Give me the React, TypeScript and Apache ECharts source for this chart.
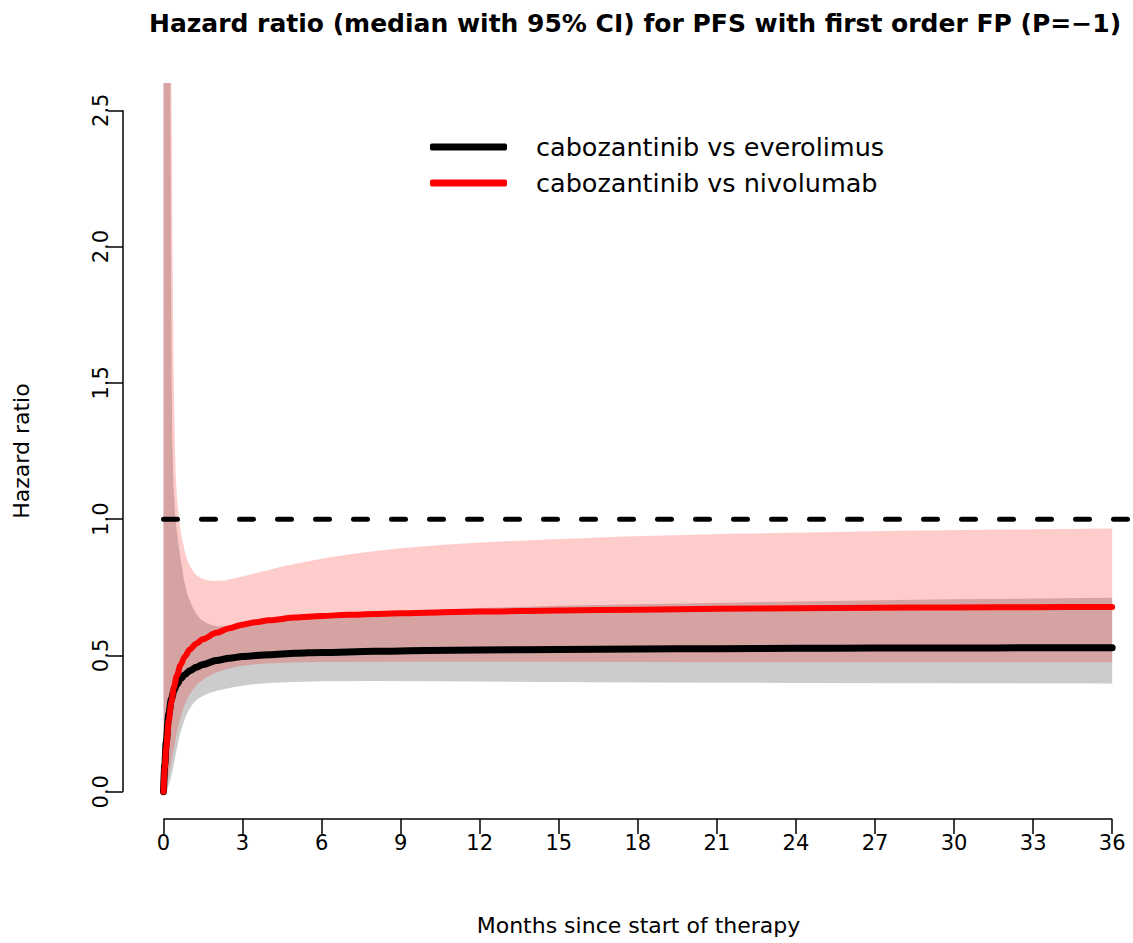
import React, { useEffect, useRef } from "react";
import * as echarts from "echarts";

// ---------- text ----------
const TITLE = "Hazard ratio (median with 95% CI) for PFS with first order FP (P=\u22121)";
const X_TITLE = "Months since start of therapy";
const Y_TITLE = "Hazard ratio";
const NAME_EVE = "cabozantinib vs everolimus";
const NAME_NIVO = "cabozantinib vs nivolumab";

// ---------- ticks ----------
const X_TICKS = [0, 3, 6, 9, 12, 15, 18, 21, 24, 27, 30, 33, 36];
const Y_TICKS = [0, 0.5, 1, 1.5, 2, 2.5];
const REFERENCE_HR = 1;

// ---------- medians [month, HR] ----------
const EVE_MEDIAN: number[][] = [
  [0, 0], [0.05, 0.1], [0.1, 0.18], [0.2, 0.285], [0.3, 0.34], [0.4, 0.372], [0.5, 0.393],
  [0.65, 0.414], [0.8, 0.429], [1.0, 0.444], [1.25, 0.457], [1.5, 0.467], [2, 0.481], [2.5, 0.49],
  [3, 0.496], [4, 0.503], [5, 0.508], [6, 0.511], [8, 0.515], [10, 0.518], [12, 0.52],
  [15, 0.522], [18, 0.524], [21, 0.525], [24, 0.526], [27, 0.527], [30, 0.527], [33, 0.528], [36, 0.528],
];
const NIVO_MEDIAN: number[][] = [
  [0, 0], [0.05, 0.09], [0.1, 0.16], [0.2, 0.26], [0.3, 0.33], [0.4, 0.385], [0.5, 0.425],
  [0.65, 0.465], [0.8, 0.495], [1.0, 0.522], [1.25, 0.544], [1.5, 0.56], [2, 0.583], [2.5, 0.6],
  [3, 0.613], [3.5, 0.622], [4, 0.629], [5, 0.639], [6, 0.645], [7, 0.649], [8, 0.652], [10, 0.657],
  [12, 0.661], [15, 0.665], [18, 0.668], [21, 0.671], [24, 0.673], [27, 0.675], [30, 0.676], [33, 0.677], [36, 0.678],
];

// ---------- 95% CI bounds [month, HR] ----------
const EVE_UPPER: number[][] = [
  [0, 30], [0.1, 7], [0.2, 3.6], [0.26, 2.6], [0.3, 1.6], [0.33, 1.3], [0.38, 1.12], [0.45, 1.0],
  [0.58, 0.9], [0.77, 0.78], [0.9, 0.725], [1.09, 0.68], [1.25, 0.652], [1.4, 0.634], [1.7, 0.615],
  [2, 0.607], [2.5, 0.607], [3, 0.613], [4, 0.626], [5, 0.637], [6, 0.646], [7.5, 0.655],
  [9, 0.663], [12, 0.674], [15, 0.682], [18, 0.688], [24, 0.698], [30, 0.706], [36, 0.712],
];
const EVE_LOWER: number[][] = [
  [0, 0], [0.15, 0.012], [0.25, 0.04], [0.35, 0.08], [0.5, 0.155], [0.62, 0.21], [0.75, 0.25],
  [0.88, 0.285], [1.0, 0.305], [1.13, 0.325], [1.3, 0.34], [1.5, 0.352], [1.75, 0.362], [2, 0.37],
  [2.4, 0.379], [2.8, 0.386], [3.3, 0.393], [4, 0.399], [5, 0.403], [6, 0.405], [8, 0.406],
  [12, 0.404], [18, 0.401], [24, 0.399], [30, 0.398], [36, 0.397],
];
const NIVO_UPPER: number[][] = [
  [0, 30], [0.1, 8], [0.2, 4], [0.3, 2.6], [0.34, 2.0], [0.38, 1.58], [0.42, 1.32], [0.46, 1.17],
  [0.52, 1.07], [0.6, 0.99], [0.7, 0.93], [0.8, 0.885], [0.9, 0.852], [1.0, 0.828], [1.2, 0.799],
  [1.4, 0.785], [1.65, 0.776], [1.9, 0.773], [2.3, 0.775], [2.8, 0.785], [3.3, 0.797],
  [3.93, 0.812], [4.5, 0.826], [5.2, 0.84], [6.3, 0.86], [7.5, 0.877], [9, 0.893], [10.5, 0.905],
  [12, 0.914], [13.9, 0.923], [17.5, 0.936], [21.5, 0.946], [25, 0.952], [28, 0.957], [32, 0.962], [36, 0.966],
];
const NIVO_LOWER: number[][] = [
  [0, 0], [0.2, 0.06], [0.3, 0.11], [0.4, 0.165], [0.5, 0.215], [0.6, 0.255], [0.7, 0.29],
  [0.8, 0.317], [0.9, 0.34], [1.0, 0.358], [1.15, 0.38], [1.3, 0.396], [1.6, 0.418], [2, 0.437],
  [2.4, 0.45], [2.8, 0.459], [3.3, 0.466], [4, 0.471], [5, 0.474], [6, 0.476], [10, 0.477],
  [18, 0.476], [27, 0.475], [36, 0.475],
];

// ---------- layout ----------
const X_MIN = -1.537;
const X_MAX = 36.79;
const Y_MIN = -0.1;
const Y_MAX = 2.6;
const FONT = "DejaVu Sans";

function bandSeries(name: string, upper: number[][], lower: number[][], fill: string) {
  return {
    type: "custom",
    name,
    silent: true,
    clip: true,
    data: [[upper[0][0], lower[0][1]]],
    renderItem: (_params: any, api: any) => {
      const pts = upper
        .map((p) => api.coord(p))
        .concat(lower.slice().reverse().map((p) => api.coord(p)));
      return { type: "polygon", shape: { points: pts }, style: { fill } };
    },
  };
}

function buildOption() {
  const firstX = X_TICKS[0];
  const lastX = X_TICKS[X_TICKS.length - 1];
  const firstY = Y_TICKS[0];
  const lastY = Y_TICKS[Y_TICKS.length - 1];
  return {
    animation: false,
    backgroundColor: "#ffffff",
    textStyle: { fontFamily: FONT, color: "#000" },
    title: {
      text: TITLE,
      left: 630,
      top: 6,
      textAlign: "center",
      textStyle: { fontFamily: FONT, fontWeight: "bold", fontSize: 25, color: "#000" },
    },
    legend: {
      orient: "vertical",
      left: 425,
      top: 127,
      itemWidth: 77,
      itemHeight: 7,
      itemGap: 6,
      selectedMode: false,
      data: [
        { name: NAME_EVE, icon: "roundRect" },
        { name: NAME_NIVO, icon: "roundRect" },
      ],
      textStyle: { fontFamily: FONT, fontSize: 25.5, color: "#000", lineHeight: 30, padding: [0, 0, 0, 24] },
    },
    grid: { left: 123, right: 0, top: 83, bottom: 124 },
    xAxis: {
      type: "value",
      min: X_MIN,
      max: X_MAX,
      name: X_TITLE,
      nameLocation: "middle",
      nameGap: 95,
      nameTextStyle: { fontFamily: FONT, fontSize: 22, color: "#000", padding: [0, 0, 0, 21] },
      axisLine: { show: false, onZero: false },
      splitLine: { show: false },
      axisTick: { show: true, customValues: X_TICKS, length: 15, lineStyle: { color: "#000", width: 1.5 } },
      axisLabel: { customValues: X_TICKS, fontFamily: FONT, fontSize: 21, color: "#000", margin: 13 },
    },
    yAxis: {
      type: "value",
      min: Y_MIN,
      max: Y_MAX,
      name: Y_TITLE,
      nameLocation: "middle",
      nameGap: 91,
      nameTextStyle: { fontFamily: FONT, fontSize: 22, color: "#000" },
      axisLine: { show: false, onZero: false },
      splitLine: { show: false },
      axisTick: { show: true, customValues: Y_TICKS, length: 15, lineStyle: { color: "#000", width: 1.5 } },
      axisLabel: {
        customValues: Y_TICKS,
        rotate: 90,
        fontFamily: FONT,
        fontSize: 21,
        color: "#000",
        margin: 12,
        formatter: (v: number) => v.toFixed(1),
      },
    },
    series: [
      bandSeries("eve-ci", EVE_UPPER, EVE_LOWER, "rgba(128,128,128,0.4)"),
      {
        type: "line",
        name: NAME_EVE,
        color: "#000",
        data: EVE_MEDIAN,
        showSymbol: false,
        smooth: 0.3,
        smoothMonotone: "x",
        lineStyle: { color: "#000", width: 7, cap: "round", join: "round" },
      },
      bandSeries("nivo-ci", NIVO_UPPER, NIVO_LOWER, "rgba(255,0,0,0.2)"),
      {
        type: "line",
        name: NAME_NIVO,
        color: "#ff0000",
        data: NIVO_MEDIAN,
        showSymbol: false,
        smooth: 0.3,
        smoothMonotone: "x",
        lineStyle: { color: "#ff0000", width: 6, cap: "round", join: "round" },
      },
      {
        type: "line",
        name: "reference",
        data: [[firstX, REFERENCE_HR], [X_MAX, REFERENCE_HR]],
        showSymbol: false,
        silent: true,
        lineStyle: { color: "#000", width: 5, type: [14, 24], cap: "round" },
      },
      {
        type: "line",
        name: "x-axis-line",
        data: [[firstX, Y_MIN], [lastX, Y_MIN]],
        showSymbol: false,
        silent: true,
        clip: false,
        lineStyle: { color: "#000", width: 1.5 },
      },
      {
        type: "line",
        name: "y-axis-line",
        data: [[X_MIN, firstY], [X_MIN, lastY]],
        showSymbol: false,
        silent: true,
        clip: false,
        lineStyle: { color: "#000", width: 1.5 },
      },
    ],
  };
}

export default function App() {
  const ref = useRef<HTMLDivElement>(null);
  useEffect(() => {
    if (!ref.current) return;
    const chart = echarts.init(ref.current, null, { renderer: "svg" });
    chart.setOption(buildOption() as any);
    return () => chart.dispose();
  }, []);
  return (
    <div
      ref={ref}
      style={{ position: "absolute", left: 0, top: 0, width: 1133, height: 943, background: "#fff" }}
    />
  );
}
